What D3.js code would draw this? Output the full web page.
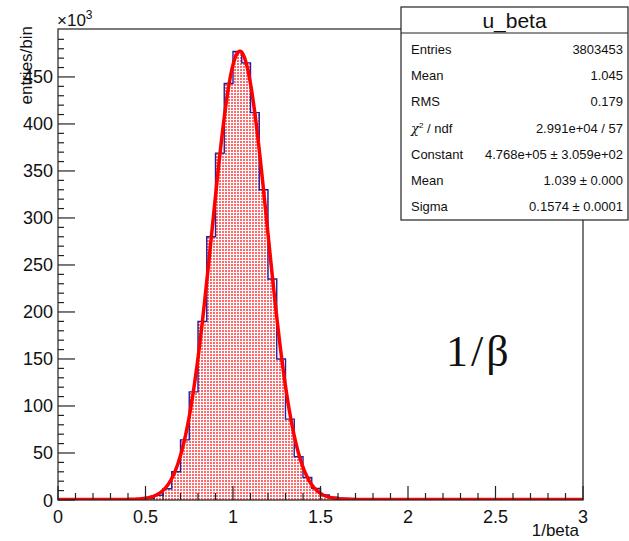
<!DOCTYPE html>
<html>
<head>
<meta charset="utf-8">
<script src="https://cdn.jsdelivr.net/npm/d3@7"></script>
<style>
  html, body { margin: 0; padding: 0; background: #fff; }
  svg { display: block; font-family: "Liberation Sans", Arial, Helvetica, sans-serif; }
</style>
</head>
<body>
<svg id="chart" width="629" height="541"></svg>
<script>
// 1/beta distribution: 60 bins of width 0.05 on [0, 3], counts in units of 10^3 entries/bin
const binLowEdges = d3.range(0, 60).map(i => +(i * 0.05).toFixed(2));
const binCounts = [
  0, 0, 0, 0, 0, 0, 0, 0, 0, 0.3,
  1.5, 5, 12, 30, 64, 115, 190, 280, 369, 443,
  477, 465, 412, 330, 235, 150, 86, 46, 24, 12.4,
  5.3, 2.9, 1.8, 1.6, 0.6, 0.3, 0.2, 0.1, 0.1, 0.1,
  0, 0, 0, 0, 0, 0, 0, 0, 0, 0,
  0, 0, 0, 0, 0, 0, 0, 0, 0, 0
];
const binWidth = 0.05;

// Gaussian fit parameters (Constant, Mean, Sigma)
const fitNames = ["Constant", "Mean", "Sigma"];
const fitValues = [476.8, 1.039, 0.1574];   // Constant in 10^3

// Statistics box rows
const statLabels = ["Entries", "Mean", "RMS", "chi2", "Constant", "Mean", "Sigma"];
const statValues = ["3803453", "1.045", "0.179", "2.991e+04 / 57",
                    "4.768e+05 \u00b1 3.059e+02", "1.039 \u00b1 0.000", "0.1574 \u00b1 0.0001"];

// Axis ticks
const xMajorTicks = [0, 0.5, 1, 1.5, 2, 2.5, 3];
const xTickLabels = ["0", "0.5", "1", "1.5", "2", "2.5", "3"];
const yMajorTicks = [0, 50, 100, 150, 200, 250, 300, 350, 400, 450];
const yTickLabels = ["0", "50", "100", "150", "200", "250", "300", "350", "400", "450"];

const svg = d3.select("#chart");
const frame = { left: 58, right: 583, top: 29, bottom: 500 };

const x = d3.scaleLinear().domain([0, 3]).range([frame.left, frame.right]);
const y = d3.scaleLinear().domain([0, 501]).range([frame.bottom, frame.top]);

// dotted fill pattern
const defs = svg.append("defs");
const pat = defs.append("pattern")
  .attr("id", "dots").attr("patternUnits", "userSpaceOnUse")
  .attr("width", 3).attr("height", 3);
pat.append("rect").attr("width", 3).attr("height", 3).attr("fill", "#fff");
pat.append("rect").attr("width", 2).attr("height", 2).attr("fill", "#ff3030").attr("fill-opacity", 0.72);

defs.append("clipPath").attr("id", "frameClip")
  .append("rect")
  .attr("x", frame.left).attr("y", frame.top)
  .attr("width", frame.right - frame.left).attr("height", frame.bottom - frame.top);

// step outline points
const stepPts = [];
binLowEdges.forEach((lo, i) => {
  stepPts.push([lo, binCounts[i]]);
  stepPts.push([lo + binWidth, binCounts[i]]);
});

const plot = svg.append("g").attr("clip-path", "url(#frameClip)");

plot.append("path")
  .datum(stepPts)
  .attr("fill", "url(#dots)")
  .attr("d", d3.area().x(d => x(d[0])).y0(y(0)).y1(d => y(d[1])));

plot.append("path")
  .datum(stepPts)
  .attr("fill", "none")
  .attr("stroke", "#22229a")
  .attr("stroke-width", 1.4)
  .attr("d", d3.line().x(d => x(d[0])).y(d => y(d[1])));

// fitted Gaussian
const gauss = v => fitValues[0] * Math.exp(-0.5 * Math.pow((v - fitValues[1]) / fitValues[2], 2));
const fitPts = d3.range(0, 3.0001, 0.004).map(v => [v, gauss(v)]);
plot.append("path")
  .datum(fitPts)
  .attr("fill", "none")
  .attr("stroke", "#ff0000")
  .attr("stroke-width", 3.5)
  .attr("stroke-linejoin", "round")
  .attr("d", d3.line().x(d => x(d[0])).y(d => y(d[1]) - 0.5));

// frame
svg.append("rect")
  .attr("x", frame.left).attr("y", frame.top)
  .attr("width", frame.right - frame.left).attr("height", frame.bottom - frame.top)
  .attr("fill", "none").attr("stroke", "#222").attr("stroke-width", 1.2);

// x axis ticks (inside, upwards)
const axisG = svg.append("g").attr("stroke", "#222").attr("stroke-width", 1.2);
d3.range(0, 31).forEach(i => {
  const v = i / 10;
  const major = i % 5 === 0;
  axisG.append("line")
    .attr("x1", x(v)).attr("x2", x(v))
    .attr("y1", frame.bottom).attr("y2", frame.bottom - (major ? 14 : 7));
});
// y axis ticks (inside, rightwards)
d3.range(0, 50).forEach(i => {
  const v = i * 10;
  const major = i % 5 === 0;
  axisG.append("line")
    .attr("x1", frame.left).attr("x2", frame.left + (major ? 17 : 6))
    .attr("y1", y(v)).attr("y2", y(v));
});

svg.append("g").selectAll("text").data(xMajorTicks).join("text")
  .attr("x", d => x(d)).attr("y", 523)
  .attr("text-anchor", "middle")
  .attr("font-size", 18).attr("fill", "#111")
  .text((d, i) => xTickLabels[i]);

svg.append("g").selectAll("text").data(yMajorTicks).join("text")
  .attr("x", 53).attr("y", d => y(d) + 6.5)
  .attr("text-anchor", "end")
  .attr("font-size", 18).attr("fill", "#111")
  .text((d, i) => yTickLabels[i]);

// exponent marker
const expT = svg.append("text").attr("x", 57).attr("y", 26).attr("font-size", 17).attr("fill", "#111");
expT.append("tspan").text("\u00d710");
expT.append("tspan").attr("dy", -7).attr("font-size", 12).text("3");

// axis titles
svg.append("text")
  .attr("transform", "translate(32,26) rotate(-90)")
  .attr("text-anchor", "end")
  .attr("font-size", 17).attr("fill", "#111")
  .text("entries/bin");

svg.append("text")
  .attr("x", 579).attr("y", 536)
  .attr("text-anchor", "end")
  .attr("font-size", 17).attr("fill", "#111")
  .text("1/beta");

// large annotation
svg.append("text")
  .attr("x", 446).attr("y", 366)
  .style("font-family", "'Liberation Serif', 'DejaVu Serif', serif")
  .style("letter-spacing", "3px")
  .attr("font-size", 44).attr("fill", "#111")
  .text("1/\u03b2");

// statistics box
const box = { x: 401, y: 7, w: 227, h: 213, titleH: 26 };
svg.append("rect")
  .attr("x", box.x).attr("y", box.y).attr("width", box.w).attr("height", box.h)
  .attr("fill", "#fff").attr("stroke", "#222").attr("stroke-width", 1.2);
svg.append("line")
  .attr("x1", box.x).attr("x2", box.x + box.w)
  .attr("y1", box.y + box.titleH).attr("y2", box.y + box.titleH)
  .attr("stroke", "#222").attr("stroke-width", 1.2);
svg.append("text")
  .attr("x", box.x + box.w / 2).attr("y", 28)
  .attr("text-anchor", "middle").attr("font-size", 21).attr("fill", "#111")
  .text("u_beta");

const rowY = d3.scaleLinear().domain([0, 6]).range([54, 211]);
statLabels.forEach((lab, i) => {
  const t = svg.append("text")
    .attr("x", 411).attr("y", rowY(i))
    .attr("font-size", 13).attr("fill", "#111");
  if (lab === "chi2") {
    t.append("tspan").style("font-family", "'DejaVu Serif', serif").attr("font-style", "italic").text("\u03c7");
    t.append("tspan").attr("dy", -5).attr("font-size", 8).text("2");
    t.append("tspan").attr("dy", 5).text(" / ndf");
  } else {
    t.text(lab);
  }
  svg.append("text")
    .attr("x", 623).attr("y", rowY(i))
    .attr("text-anchor", "end")
    .attr("font-size", 13).attr("fill", "#111")
    .text(statValues[i]);
});
</script>
</body>
</html>
